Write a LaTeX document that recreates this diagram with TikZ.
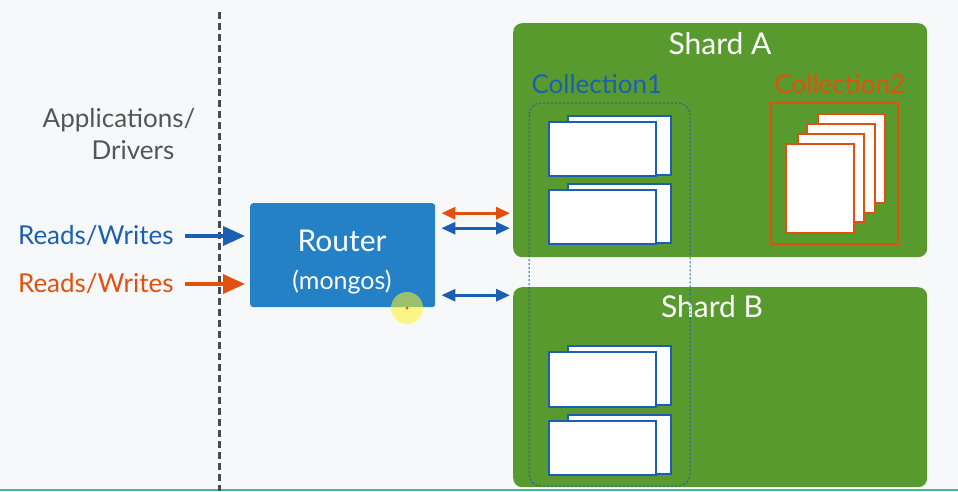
\documentclass[tikz,border=0pt]{standalone}
\usepackage{fontspec}
\setmainfont{Lato}
\usetikzlibrary{arrows.meta,positioning}
\definecolor{bgGray}{HTML}{F7F8FA}
\definecolor{routerBlue}{HTML}{2481C5}
\definecolor{rwBlue}{HTML}{1B5FB4}
\definecolor{rwOrange}{HTML}{E2500F}
\definecolor{shardGreen}{HTML}{599A2F}
\definecolor{lineGray}{HTML}{4A4A4A}
\definecolor{textGray}{HTML}{555555}
\definecolor{bottomTeal}{HTML}{40B89A}

\begin{document}
\begin{tikzpicture}[x=1pt,y=-1pt,
  shard/.style={fill=shardGreen, rounded corners=9pt, inner sep=0pt, anchor=north west},
  doc/.style={draw=rwBlue, fill=white, line width=1.3pt},
  page/.style={draw=rwOrange, fill=white, line width=1.3pt},
  rwarrow/.style={line width=3.5pt, -{Triangle[length=22pt,width=19pt]}, shorten <=8pt, shorten >=5pt},
  dblarrow/.style={line width=3pt, {Triangle[length=14pt,width=12pt]}-{Triangle[length=14pt,width=12pt]}, shorten <=6pt, shorten >=3pt},
  bigfont/.style={font=\fontsize{26}{32}\selectfont}]
\useasboundingbox (0,0) rectangle (958,491);
\fill[bgGray] (0,0) rectangle (958,491);
\fill[bottomTeal] (0,489) rectangle (958,491);

% applications side
\draw[lineGray, line width=3pt, dash pattern=on 7pt off 4pt] (219,12) -- (219,491);
\node[bigfont, text=textGray, align=center] (apps) at (119,134) {Applications/\\\hspace*{28pt}Drivers};
\node[bigfont, text=rwBlue, anchor=east] (rwA) at (177,236) {Reads/Writes};
\node[bigfont, text=rwOrange, anchor=east] (rwB) at (177,284) {Reads/Writes};

% router
\node[fill=routerBlue, rounded corners=3pt, minimum width=185pt, minimum height=104pt, anchor=north west, inner sep=0pt] (router) at (250,203) {};
\node[text=white, font=\fontsize{30}{34}\selectfont] at (342,241) {Router};
\node[text=white, font=\fontsize{25}{30}\selectfont] at (342,282) {(mongos)};

\draw[rwarrow, rwBlue] (rwA.east) -- (rwA.east -| router.west);
\draw[rwarrow, rwOrange] (rwB.east) -- (rwB.east -| router.west);

% shards
\node[shard, minimum width=414pt, minimum height=234pt] (shardA) at (513,23) {};
\node[shard, minimum width=414pt, minimum height=200pt] (shardB) at (513,287) {};
\node[text=white, font=\fontsize{30}{34}\selectfont] at (720,44) {Shard A};
\node[text=white, font=\fontsize{30}{34}\selectfont] at (712,307) {Shard B};

\coordinate (oA) at ([yshift=42pt]router.east);
\coordinate (bA) at ([yshift=27pt]router.east);
\coordinate (bB) at ([yshift=-40pt]router.east);
\draw[dblarrow, rwOrange] (oA) -- (oA -| shardA.west);
\draw[dblarrow, rwBlue] (bA) -- (bA -| shardA.west);
\draw[dblarrow, rwBlue] (bB) -- (bB -| shardB.west);

% collection 1
\node[bigfont, text=rwBlue, anchor=west] at (528,84) {Collection1};
\draw[rwBlue, line width=1pt, dash pattern=on 2pt off 2pt, rounded corners=12pt] (529,103) rectangle (690,486);
\draw[doc] (568,116) rectangle (671,175);
\draw[doc] (549,122) rectangle (656,176);
\draw[doc] (568,184) rectangle (671,243);
\draw[doc] (549,190) rectangle (656,244);
\draw[doc] (568,346) rectangle (671,405);
\draw[doc] (549,352) rectangle (656,407);
\draw[doc] (568,415) rectangle (671,474);
\draw[doc] (549,421) rectangle (656,475);

% collection 2
\node[bigfont, text=rwOrange, anchor=west] at (771,84) {Collection2};
\draw[rwOrange, line width=1.2pt] (771,103) rectangle (898,244);
\draw[page] (818,114) rectangle (885,203);
\draw[page] (807,124) rectangle (875,213);
\draw[page] (798,134) rectangle (864,222);
\draw[page] (786,144) rectangle (854,233);

% pointer
\fill[yellow!85!white, opacity=0.55] (407,308) circle (16pt);
\fill[rwOrange] (407,308) circle (1.5pt);
\end{tikzpicture}
\end{document}
